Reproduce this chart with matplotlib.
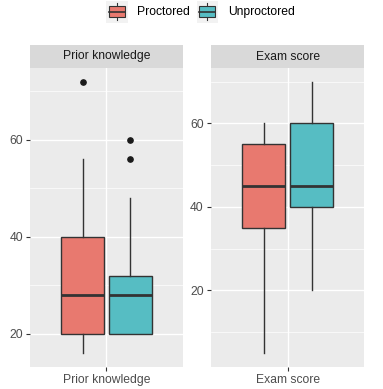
import matplotlib
matplotlib.use('agg')
import matplotlib.pyplot as plt
from matplotlib.patches import Rectangle
from matplotlib.lines import Line2D
from matplotlib.legend_handler import HandlerBase

plt.rcParams['font.family'] = ['Liberation Sans', 'DejaVu Sans']

# summary stats (whislo, q1, med, q3, whishi)
groups = ["Proctored", "Unproctored"]
colors = ["#E8796F", "#56BDC3"]
panels = ["Prior knowledge", "Exam score"]

prior_whislo = [16, 20]
prior_q1 = [20, 20]
prior_med = [28, 28]
prior_q3 = [40, 32]
prior_whishi = [56, 48]
prior_fliers = [[72], [56, 60]]

exam_whislo = [5, 20]
exam_q1 = [35, 40]
exam_med = [45, 45]
exam_q3 = [55, 60]
exam_whishi = [60, 70]
exam_fliers = [[], []]

ylims = [(13.2, 74.8), (1.75, 73.25)]
yticks = [[20, 40, 60], [20, 40, 60]]
yminor = [[30, 50, 70], [10, 30, 50, 70]]

W, H = 383, 389
fig = plt.figure(figsize=(W / 100, H / 100), dpi=100)

def px_axes(x0, y0, x1, y1):
    return fig.add_axes([x0 / W, 1 - y1 / H, (x1 - x0) / W, (y1 - y0) / H])

def make_stats(lo, q1, med, q3, hi, fl):
    return [dict(whislo=lo[i], q1=q1[i], med=med[i], q3=q3[i], whishi=hi[i], fliers=fl[i])
            for i in range(len(lo))]

all_stats = [
    make_stats(prior_whislo, prior_q1, prior_med, prior_q3, prior_whishi, prior_fliers),
    make_stats(exam_whislo, exam_q1, exam_med, exam_q3, exam_whishi, exam_fliers),
]

panel_x = [(30, 183), (210.7, 364.5)]
edge = "#333333"

for k in range(2):
    x0, x1 = panel_x[k]
    ax = px_axes(x0, 68, x1, 366.7)
    ax.set_facecolor("#EBEBEB")
    for s in ax.spines.values():
        s.set_visible(False)
    ax.set_xlim(0.4, 1.6)
    ax.set_ylim(*ylims[k])
    ax.set_yticks(yticks[k])
    ax.set_yticks(yminor[k], minor=True)
    ax.set_xticks([1])
    ax.set_xticklabels([panels[k]])
    ax.grid(True, which='major', color='white', linewidth=1.0)
    ax.grid(True, which='minor', axis='y', color='white', linewidth=0.5)
    ax.set_axisbelow(True)
    ax.tick_params(axis='both', which='major', length=2.6, width=0.8, color=edge,
                   labelsize=8.7, labelcolor="#4D4D4D", pad=2.5)
    ax.tick_params(axis='y', which='minor', length=0)

    bp = ax.bxp(all_stats[k], positions=[1 - 0.1875, 1 + 0.1875], widths=0.3375,
                patch_artist=True, showcaps=False, manage_ticks=False,
                boxprops=dict(edgecolor=edge, linewidth=1.0),
                whiskerprops=dict(color=edge, linewidth=1.0),
                medianprops=dict(color=edge, linewidth=2.0, solid_capstyle='butt'),
                flierprops=dict(marker='o', markerfacecolor='#1A1A1A',
                                markeredgecolor='#1A1A1A', markersize=3.8))
    for patch, c in zip(bp['boxes'], colors):
        patch.set_facecolor(c)

    strip = px_axes(x0, 45, x1, 68)
    strip.set_facecolor("#D9D9D9")
    strip.set_xticks([])
    strip.set_yticks([])
    for s in strip.spines.values():
        s.set_visible(False)
    strip.text(0.5, 0.5, panels[k], ha='center', va='center', fontsize=8.7,
               color="#1A1A1A", transform=strip.transAxes)


class BoxKey(HandlerBase):
    def __init__(self, fill):
        super().__init__()
        self.fill = fill

    def create_artists(self, legend, orig_handle, xdescent, ydescent, width, height, fontsize, trans):
        x0, y0 = -xdescent, -ydescent
        bg = Rectangle((x0, y0), width, height, facecolor="#F2F2F2",
                       edgecolor='none', transform=trans)
        cx = x0 + width / 2
        ln = Line2D([cx, cx], [y0 + height * 0.1, y0 + height * 0.9], color=edge,
                    linewidth=0.8, transform=trans)
        bx = Rectangle((x0 + width * 0.125, y0 + height * 0.25), width * 0.75, height * 0.5,
                       facecolor=self.fill, edgecolor=edge, linewidth=0.8, transform=trans)
        md = Line2D([x0 + width * 0.125, x0 + width * 0.875], [y0 + height / 2] * 2,
                    color=edge, linewidth=1.2, transform=trans)
        return [bg, ln, bx, md]


handles = [Rectangle((0, 0), 1, 1) for _ in groups]
handlers = {h: BoxKey(c) for h, c in zip(handles, colors)}
fig.legend(handles, groups, handler_map=handlers, loc='upper center',
           bbox_to_anchor=(0.5235, 0.998), ncol=2, frameon=False, fontsize=8.7,
           handlelength=1.75, handleheight=2.4, handletextpad=0.8, columnspacing=0.55,
           borderaxespad=0.0, borderpad=0.0)

fig.savefig("out.png", dpi=100)
